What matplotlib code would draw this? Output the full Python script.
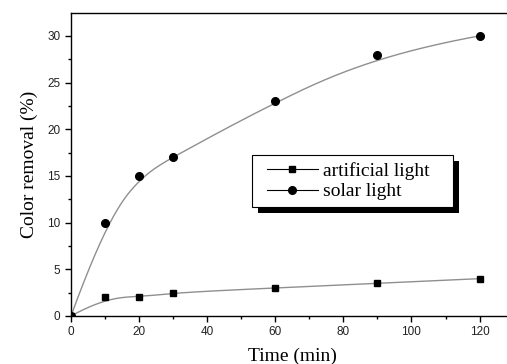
import matplotlib
matplotlib.use('Agg')
import matplotlib.pyplot as plt
import numpy as np
from matplotlib.patches import Rectangle
from matplotlib.lines import Line2D

# ------------------------
# Data
# ------------------------
time_min = [0, 10, 20, 30, 60, 90, 120]
artificial = [0, 2, 2, 2.5, 3, 3.5, 4]
solar = [0, 10, 15, 17, 23, 28, 30]
labels = ['artificial light', 'solar light']


def bspline(xs, ys, n=300):
    # clamped cubic B-spline with the data points as control points (Origin style)
    P = np.column_stack([xs, ys]).astype(float)
    k = 3
    m = len(P)
    inner = np.arange(1, m - k)
    knots = np.concatenate([np.zeros(k + 1), inner, np.full(k + 1, m - k)]).astype(float)
    t = np.linspace(0, m - k, n)
    t[-1] -= 1e-9

    def basis(i, p, t):
        if p == 0:
            return ((knots[i] <= t) & (t < knots[i + 1])).astype(float)
        a = 0.0
        b = 0.0
        d1 = knots[i + p] - knots[i]
        d2 = knots[i + p + 1] - knots[i + 1]
        if d1 > 0:
            a = (t - knots[i]) / d1 * basis(i, p - 1, t)
        if d2 > 0:
            b = (knots[i + p + 1] - t) / d2 * basis(i + 1, p - 1, t)
        return a + b

    out = np.zeros((n, 2))
    for i in range(m):
        out += basis(i, k, t)[:, None] * P[i]
    return out[:, 0], out[:, 1]


serif = ['Liberation Serif', 'DejaVu Serif']
sans = ['Liberation Sans', 'DejaVu Sans']

W, H = 507, 364
fig = plt.figure(figsize=(W / 100, H / 100), dpi=100)
fig.patch.set_facecolor('white')
# right spine falls just outside the picture, as in the reference
ax = fig.add_axes([71 / W, (H - 316) / H, 442.6 / W, 303 / H])

for ys in [artificial, solar]:
    cx, cy = bspline(time_min, ys)
    ax.plot(cx, cy, color='#8f8f8f', lw=1.0, zorder=2)

ax.plot(time_min, artificial, ls='none', marker='s', ms=5, color='black', zorder=3)
ax.plot(time_min, solar, ls='none', marker='o', ms=5.5, color='black', zorder=3)

ax.set_xlim(0, 130)
ax.set_ylim(0, 32.45)
ax.set_xticks(np.arange(0, 121, 20))
ax.set_xticks(np.arange(0, 131, 10), minor=True)
ax.set_yticks(np.arange(0, 31, 5))
ax.set_yticks(np.arange(0, 32.5, 2.5), minor=True)
ax.tick_params(which='major', direction='out', length=4, width=1, labelsize=8.5,
               labelcolor='#222222')
ax.tick_params(which='minor', direction='out', length=2.5, width=1)
for lab in ax.get_xticklabels() + ax.get_yticklabels():
    lab.set_family(sans)
for spine in ax.spines.values():
    spine.set_linewidth(1.0)

ax.set_xlabel('Time (min)', family=serif, fontsize=14, labelpad=7)
ax.set_ylabel('Color removal (%)', family=serif, fontsize=14, labelpad=7)

# legend box with a solid black drop shadow (pixel layout from the reference)
bx0, bx1, by0, by1 = 252, 453, 155, 207
fig.add_artist(Rectangle(((bx0 + 6) / W, (H - by1 - 6) / H), (bx1 - bx0) / W, (by1 - by0) / H,
                         transform=fig.transFigure, facecolor='black', edgecolor='none', zorder=4))
fig.add_artist(Rectangle((bx0 / W, (H - by1) / H), (bx1 - bx0) / W, (by1 - by0) / H,
                         transform=fig.transFigure, facecolor='white', edgecolor='black',
                         lw=0.8, zorder=5))

handles = [
    Line2D([], [], color='black', lw=0.8, marker='s', ms=5),
    Line2D([], [], color='black', lw=0.8, marker='o', ms=5.5),
]
leg = fig.legend(handles, labels, loc='upper left',
                 bbox_to_anchor=(267 / W, (H - 162) / H),
                 prop={'family': serif, 'size': 14}, frameon=False,
                 handlelength=2.6, handletextpad=0.3, borderpad=0, labelspacing=0.15,
                 borderaxespad=0)
leg.set_zorder(6)

fig.savefig('out.png', dpi=100)
